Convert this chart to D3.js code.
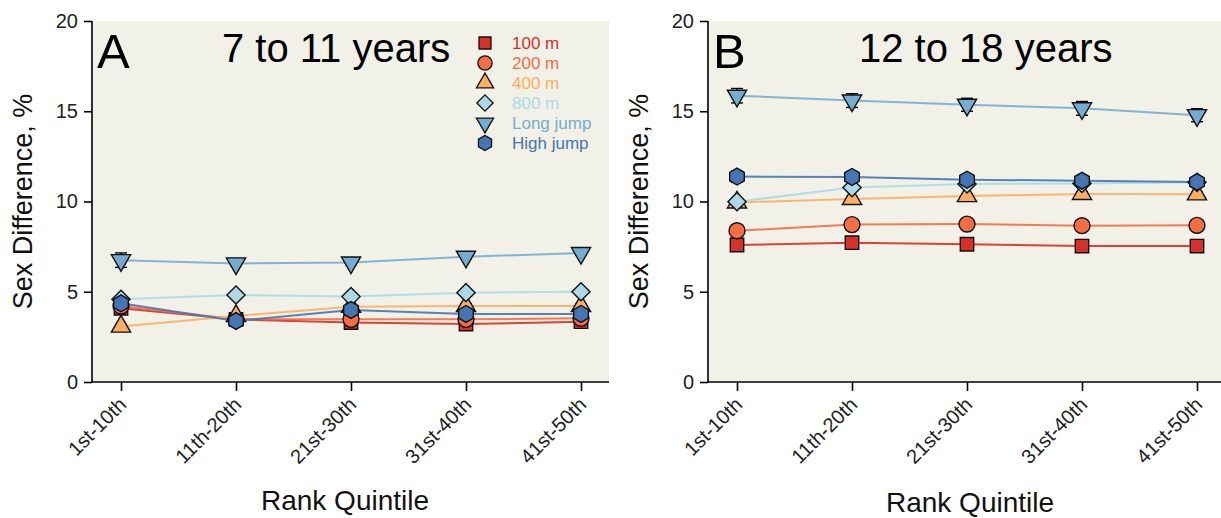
<!DOCTYPE html>
<html>
<head>
<meta charset="utf-8">
<script src="https://cdn.jsdelivr.net/npm/d3@7"></script>
<style>
body { margin: 0; background: #fff; }
text { font-family: "Liberation Sans", Arial, sans-serif; }
</style>
</head>
<body>
<script>
// categories and series
var quintiles = ["1st-10th", "11th-20th", "21st-30th", "31st-40th", "41st-50th"];
var events = ["100 m", "200 m", "400 m", "800 m", "Long jump", "High jump"];
var colors = ["#d73027", "#f46d43", "#fdae61", "#abd9e9", "#74add1", "#4575b4"];
var yTicks = [0, 5, 10, 15, 20];

// panel A: 7 to 11 years
var a100 = [4.08, 3.47, 3.29, 3.21, 3.34];
var a200 = [4.21, 3.47, 3.47, 3.47, 3.53];
var a400 = [3.07, 3.66, 4.17, 4.21, 4.21];
var a800 = [4.58, 4.82, 4.73, 4.95, 5.00];
var aLong = [6.75, 6.57, 6.62, 6.94, 7.14];
var aHigh = [4.36, 3.38, 3.99, 3.77, 3.77];
var aLongErr = [0.40, 0.12, 0.12, 0.12, 0.12];

// panel B: 12 to 18 years
var b100 = [7.59, 7.72, 7.63, 7.53, 7.53];
var b200 = [8.38, 8.72, 8.75, 8.66, 8.68];
var b400 = [9.95, 10.14, 10.30, 10.42, 10.40];
var b800 = [9.99, 10.77, 10.97, 11.00, 11.06];
var bLong = [15.86, 15.59, 15.36, 15.16, 14.78];
var bHigh = [11.38, 11.36, 11.21, 11.15, 11.08];
var bLongErr = [0.40, 0.38, 0.36, 0.38, 0.36];
var bHighErr = [0.30, 0.30, 0.28, 0.28, 0.28];
var smallErr = [0.12, 0.12, 0.12, 0.12, 0.12];

var W = 1221, H = 518;
var svg = d3.select("body").append("svg").attr("width", W).attr("height", H);

// custom marker shapes
var hexagon = { draw: function(ctx, size) {
    var r = Math.sqrt(size / 2.598);
    for (var i = 0; i < 6; i++) {
        var a = Math.PI / 3 * i + Math.PI / 6;
        if (i == 0) ctx.moveTo(r * Math.cos(a), r * Math.sin(a));
        else ctx.lineTo(r * Math.cos(a), r * Math.sin(a));
    }
    ctx.closePath();
}};
var diamond = { draw: function(ctx, size) {
    var r = Math.sqrt(size / 2);
    ctx.moveTo(0, -r); ctx.lineTo(r, 0); ctx.lineTo(0, r); ctx.lineTo(-r, 0); ctx.closePath();
}};
var triDown = { draw: function(ctx, size) {
    var s = Math.sqrt(size * 4 / Math.sqrt(3));
    var h = s * Math.sqrt(3) / 2;
    ctx.moveTo(-s / 2, -h / 3); ctx.lineTo(s / 2, -h / 3); ctx.lineTo(0, 2 * h / 3); ctx.closePath();
}};
var triUp = { draw: function(ctx, size) {
    var s = Math.sqrt(size * 4 / Math.sqrt(3));
    var h = s * Math.sqrt(3) / 2;
    ctx.moveTo(-s / 2, h / 3); ctx.lineTo(s / 2, h / 3); ctx.lineTo(0, -2 * h / 3); ctx.closePath();
}};
var shapes = [d3.symbolSquare, d3.symbolCircle, triUp, diamond, triDown, hexagon];
var sizes = [180, 200, 160, 165, 160, 185];

var panels = [
    { x0: 92, x1: 609, letter: "A", title: "7 to 11 years", titleX: 222, titleMid: 345, titleY: 510,
      series: [a100, a200, a400, a800, aLong, aHigh],
      errs: [smallErr, smallErr, smallErr, smallErr, aLongErr, smallErr], legend: true },
    { x0: 708, x1: 1221, letter: "B", title: "12 to 18 years", titleX: 859, titleMid: 970, titleY: 512,
      series: [b100, b200, b400, b800, bLong, bHigh],
      errs: [smallErr, smallErr, smallErr, smallErr, bLongErr, bHighErr], legend: false }
];

var yTop = 21, yBot = 382;
var y = d3.scaleLinear().domain([0, 20]).range([yBot, yTop]);

panels.forEach(function(p) {
    var g = svg.append("g");
    var x = d3.scalePoint().domain(quintiles).range([p.x0 + 29, p.x0 + 489]);

    g.append("rect").attr("x", p.x0).attr("y", yTop)
        .attr("width", p.x1 - p.x0).attr("height", yBot - yTop).attr("fill", "#f2f1e7");

    // axes
    var yAxis = g.append("g").attr("transform", "translate(" + p.x0 + ",0)")
        .call(d3.axisLeft(y).tickValues(yTicks).tickSize(8).tickPadding(6).tickSizeOuter(0));
    var xAxis = g.append("g").attr("transform", "translate(0," + yBot + ")")
        .call(d3.axisBottom(x).tickSize(9).tickSizeOuter(0));
    [yAxis, xAxis].forEach(function(ax) {
        ax.attr("font-family", null).attr("font-size", null);
        ax.select(".domain").attr("stroke", "#000").attr("stroke-width", 1.6);
        ax.selectAll(".tick line").attr("stroke", "#000").attr("stroke-width", 1.6);
    });
    yAxis.select(".domain").attr("d", "M0," + yTop + "V" + yBot);
    xAxis.select(".domain").attr("d", "M" + p.x0 + ",0H" + p.x1);
    yAxis.selectAll(".tick text").style("font-size", "20px").attr("fill", "#222");
    xAxis.selectAll(".tick text").style("font-size", "20px").attr("fill", "#222")
        .attr("text-anchor", "end").attr("dy", 0).attr("y", 0)
        .attr("transform", "translate(6,24) rotate(-45)");

    g.append("text").attr("transform", "translate(" + (p.x0 - 60) + "," + ((yTop + yBot) / 2) + ") rotate(-90)")
        .attr("text-anchor", "middle").style("font-size", "27px").attr("fill", "#111").text("Sex Difference, %");
    g.append("text").attr("x", p.titleMid).attr("y", p.titleY).attr("text-anchor", "middle")
        .style("font-size", "28px").attr("fill", "#111").text("Rank Quintile");

    g.append("text").attr("x", p.x0 + 5).attr("y", 68).style("font-size", "49px").attr("fill", "#000").text(p.letter);
    g.append("text").attr("x", p.titleX).attr("y", 62).style("font-size", "40px").attr("fill", "#000").text(p.title);

    var line = d3.line().x(function(d, i) { return x(quintiles[i]); }).y(function(d) { return y(d); });

    // lines first
    p.series.forEach(function(s, k) {
        g.append("path").datum(s).attr("d", line).attr("fill", "none")
            .attr("stroke", colors[k]).attr("stroke-width", 2).attr("stroke-opacity", 0.9);
    });

    // error bars and markers
    p.series.forEach(function(s, k) {
        var e = p.errs[k];
        var eg = g.append("g").attr("stroke", "#000").attr("stroke-width", 1.4);
        s.forEach(function(v, i) {
            var cx = x(quintiles[i]);
            eg.append("line").attr("x1", cx).attr("x2", cx).attr("y1", y(v - e[i])).attr("y2", y(v + e[i]));
            eg.append("line").attr("x1", cx - 6).attr("x2", cx + 6).attr("y1", y(v + e[i])).attr("y2", y(v + e[i]));
            eg.append("line").attr("x1", cx - 6).attr("x2", cx + 6).attr("y1", y(v - e[i])).attr("y2", y(v - e[i]));
        });
        g.selectAll(null).data(s).enter().append("path")
            .attr("d", d3.symbol().type(shapes[k]).size(sizes[k]))
            .attr("transform", function(d, i) { return "translate(" + x(quintiles[i]) + "," + y(d) + ")"; })
            .attr("fill", colors[k]).attr("stroke", "#111").attr("stroke-width", 1.4);
    });

    if (p.legend) {
        var lg = g.append("g").attr("transform", "translate(485,43)");
        events.forEach(function(name, k) {
            var row = lg.append("g").attr("transform", "translate(0," + (k * 20) + ")");
            row.append("path").attr("d", d3.symbol().type(shapes[k]).size(sizes[k] * 0.8))
                .attr("fill", colors[k]).attr("stroke", "#111").attr("stroke-width", 1.3);
            row.append("text").attr("x", 27).attr("y", 6).style("font-size", "17px")
                .attr("fill", colors[k]).text(name);
        });
    }
});
</script>
</body>
</html>
